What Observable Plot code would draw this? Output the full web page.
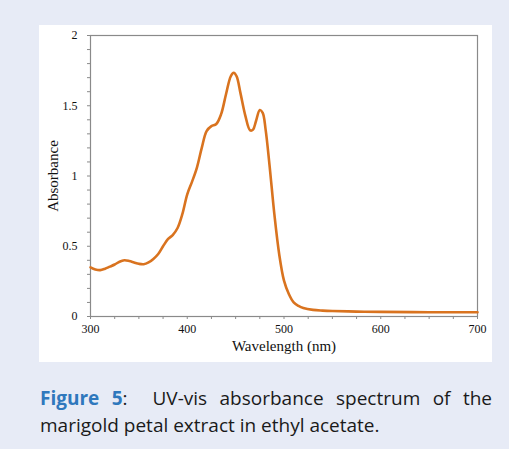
<!DOCTYPE html>
<html>
<head>
<meta charset="utf-8">
<script src="https://cdn.jsdelivr.net/npm/d3@7"></script>
<script src="https://cdn.jsdelivr.net/npm/@observablehq/plot@0.6"></script>
<style>
  html, body { margin: 0; padding: 0; }
  body { width: 509px; height: 449px; background: #e7ebf6; position: relative; overflow: hidden; }
  #panel { position: absolute; left: 39px; top: 25px; width: 453px; height: 337px; background: #ffffff; }
  #caption { position: absolute; left: 40px; top: 385px; width: 452px; font-family: "Open Sans", sans-serif; font-size: 19px; line-height: 27px; color: #1a1a1a; }
  #caption .l1 { text-align: justify; text-align-last: justify; white-space: nowrap; }
  #caption b { color: #2f78bd; font-weight: 700; }
</style>
</head>
<body>
<div id="panel"></div>
<div id="caption">
  <div class="l1"><b>Figure 5</b><span>:&nbsp; UV-vis absorbance spectrum of the</span></div>
  <div class="l2"><span>marigold petal extract in ethyl acetate.</span></div>
</div>
<script>
const wavelength = [300, 305, 310, 315, 320, 325, 330, 335, 340, 345, 350, 355, 360, 365, 370, 375, 380, 385, 390, 395, 400, 405, 410, 415, 420, 425, 430, 435, 440, 445, 448, 451, 455, 460, 465, 468, 471, 475, 478, 481, 485, 490, 495, 500, 505, 510, 515, 520, 530, 540, 550, 575, 600, 650, 700];
const absorbance = [0.35, 0.335, 0.33, 0.34, 0.355, 0.37, 0.39, 0.40, 0.395, 0.385, 0.375, 0.372, 0.385, 0.41, 0.445, 0.50, 0.55, 0.58, 0.63, 0.73, 0.87, 0.96, 1.06, 1.20, 1.32, 1.355, 1.37, 1.44, 1.58, 1.71, 1.735, 1.71, 1.59, 1.43, 1.325, 1.33, 1.39, 1.47, 1.45, 1.33, 1.08, 0.73, 0.445, 0.255, 0.16, 0.10, 0.075, 0.06, 0.047, 0.042, 0.039, 0.035, 0.033, 0.03, 0.03];
const xTicks = d3.range(300, 701, 25);
const yTicks = d3.range(0, 21, 1).map(d => d / 10);
const xLabel = "Wavelength (nm)";
const yLabel = "Absorbance";

const data = wavelength.map((w, i) => ({w, a: absorbance[i]}));

const chart = Plot.plot({
  width: 453,
  height: 337,
  marginLeft: 51,
  marginRight: 15,
  marginTop: 10,
  marginBottom: 46,
  style: {background: "transparent", fontFamily: "'Liberation Serif', 'Times New Roman', serif", fontSize: "12px", color: "#111"},
  x: {domain: [300, 700]},
  y: {domain: [0, 2]},
  marks: [
    Plot.frame({stroke: "#8a8a8a", strokeWidth: 1.2}),
    Plot.axisX({ticks: xTicks, tickFormat: d => d % 100 === 0 ? String(d) : "", tickSize: 3, tickPadding: 5, stroke: "#8a8a8a", fill: "#111", fontSize: 12, label: null}),
    Plot.axisY({ticks: yTicks, tickFormat: d => Math.round(d * 10) % 5 === 0 ? String(+d.toFixed(1)) : "", tickSize: 3, tickPadding: 10, stroke: "#8a8a8a", fill: "#111", fontSize: 12, label: null}),
    Plot.text([xLabel], {frameAnchor: "bottom", dy: 34, text: d => d, fontSize: 15, fill: "#111", textAnchor: "middle"}),
    Plot.text([yLabel], {frameAnchor: "left", dx: -37, rotate: -90, text: d => d, fontSize: 15, fill: "#111", textAnchor: "middle"}),
    Plot.line(data, {x: "w", y: "a", stroke: "#d9731f", strokeWidth: 2.6, curve: "catmull-rom"})
  ]
});
chart.style.position = "absolute";
chart.style.left = "0px";
chart.style.top = "0px";
document.getElementById("panel").appendChild(chart);
</script>
</body>
</html>
